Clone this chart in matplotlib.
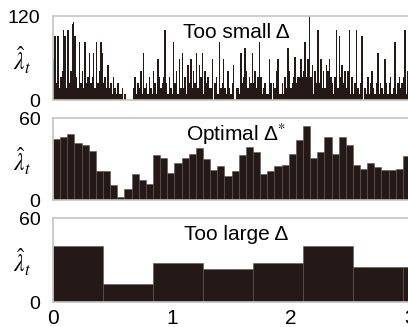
import matplotlib
matplotlib.use('Agg')
import numpy as np
import matplotlib.pyplot as plt

plt.rcParams['font.family'] = ['Liberation Sans', 'DejaVu Sans']
plt.rcParams['mathtext.fontset'] = 'stix'

# bin widths (s)
bin_small = 0.012
bin_opt = 0.06
bin_large = 0.42

# estimated rates
rate_small = [
    58, 92, 25, 92, 17,   33, 42, 100, 92, 17,   100, 25, 42, 108, 112,
    92, 33, 17, 83, 25,   42, 17, 83, 25, 33,    67, 25, 33, 67, 17,
    83, 25, 42, 83, 67,   25, 33, 17, 50, 17,    25, 8, 33, 17, 8,
    25, 8, 8, 17, 0,      8, 0, 0, 0, 0,         0, 17, 33, 8, 25,
    17, 42, 8, 67, 17,    25, 8, 33, 17, 8,      42, 25, 8, 58, 33,
    17, 25, 33, 100, 25,  8, 33, 17, 8, 83,      25, 42, 8, 58, 17,
    67, 17, 33, 8, 50,    25, 58, 17, 42, 25,    67, 17, 50, 33, 67,
    8, 42, 25, 33, 17,    17, 58, 0, 25, 33,     8, 83, 17, 25, 58,
    17, 8, 42, 17, 8,     25, 50, 0, 17, 17,     8, 67, 25, 33, 75,
    42, 17, 33, 25, 67,   25, 42, 17, 33, 83,    33, 8, 17, 25, 8,
    8, 58, 25, 0, 25,     17, 42, 58, 8, 8,      25, 8, 33, 17, 75,
    42, 17, 25, 33, 62,   25, 33, 33, 58, 33,    42, 83, 33, 58, 120,
    33, 50, 8, 42, 25,    100, 25, 58, 17, 42,   17, 50, 42, 58, 33,
    25, 8, 33, 100, 17,   92, 33, 50, 25, 42,    17, 42, 100, 8, 33,
    8, 25, 100, 17, 8,    25, 92, 0, 17, 8,      33, 8, 25, 42, 17,
    8, 25, 67, 8, 25,     17, 8, 58, 25, 8,      25, 33, 8, 17, 83,
    8, 25, 33, 17, 25,    33, 100, 8, 42, 25,
]
rate_opt = [
    45, 46, 48, 42, 40, 36, 21, 21, 11, 2,
    8, 19, 15, 12, 33, 31, 20, 27, 31, 34,
    38, 30, 22, 25, 18, 21, 33, 39, 35, 19,
    21, 25, 26, 34, 44, 54, 31, 35, 46, 34,
    46, 40, 26, 23, 27, 24, 22, 22, 23, 32, 30,
]
rate_large = [40, 13, 28, 24, 28, 40, 25, 25]

panels = [
    (rate_small, bin_small, 120, 'Too small Δ'),
    (rate_opt, bin_opt, 60, 'Optimal Δ$^{*}$'),
    (rate_large, bin_large, 60, 'Too large Δ'),
]

bar_color = '#241916'
fig = plt.figure(figsize=(4.08, 3.27), dpi=100)
bottoms = [0.694, 0.388, 0.076]
heights = [0.257, 0.251, 0.257]

for i, (rates, width, ymax, title) in enumerate(panels):
    ax = fig.add_axes([0.130, bottoms[i], 0.9625, heights[i]])
    left = np.arange(len(rates)) * width
    if i == 0:
        ax.bar(left, rates, width=width, align='edge', color=bar_color, linewidth=0)
    else:
        ax.bar(left, rates, width=width, align='edge', color=bar_color,
               edgecolor='#5e5552', linewidth=0.4)
    ax.set_xlim(0, 3.3)
    ax.set_ylim(0, ymax)
    ax.set_yticks([0, ymax])
    ax.tick_params(axis='y', length=0, pad=9, labelsize=14)
    ax.tick_params(axis='x', length=0, pad=5, labelsize=15)
    if i == 2:
        ax.set_xticks([0, 1, 2, 3])
    else:
        ax.set_xticks([])
    for s in ax.spines.values():
        s.set_color('#c4c4c4')
        s.set_linewidth(1.2)
    ax.set_ylabel(r'$\hat{\lambda}_t$', rotation=0, fontsize=17, va='center', ha='center')
    ax.yaxis.set_label_coords(-0.078, 0.47)
    ax.text(1.54, ymax * 0.80, title, ha='center', va='center', fontsize=15)

fig.savefig('out.png', dpi=100)
